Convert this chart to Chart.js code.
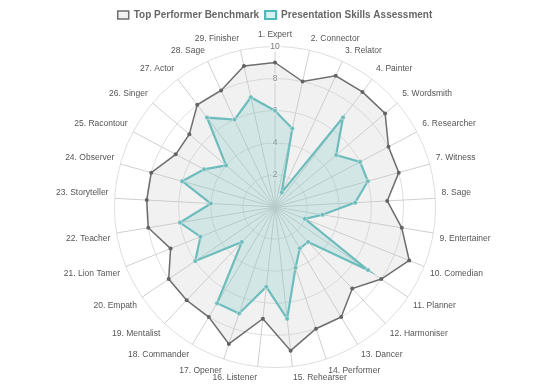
<!DOCTYPE html>
<html>
<head>
<meta charset="utf-8">
<script src="https://cdn.jsdelivr.net/npm/chart.js@4.4.0/dist/chart.umd.min.js"></script>
<style>
html,body{margin:0;padding:0;background:#fff;}
#wrap{width:550px;height:384px;}
</style>
</head>
<body>
<div id="wrap"><canvas id="c" width="550" height="384"></canvas></div>
<script>
const categories = ["1. Expert","2. Connector","3. Relator","4. Painter","5. Wordsmith","6. Researcher","7. Witness","8. Sage","9. Entertainer","10. Comedian","11. Planner","12. Harmoniser","13. Dancer","14. Performer","15. Rehearser","16. Listener","17. Opener","18. Commander","19. Mentalist","20. Empath","21. Lion Tamer","22. Teacher","23. Storyteller","24. Observer","25. Racontour","26. Singer","27. Actor","28. Sage","29. Finisher"];
const benchmark = [9,8,9,9,9,8,8,7,8,9,8,7,8,8,9,7,9,8,8,8,7,8,8,8,7,7,8,8,9];
const assessment = [6,5,1,7,5,6,6,5,3,2,7,3,3,4,7,5,7,7,3,6,5,6,4,6,5,4,7,6,7];
const seriesNames = ["Top Performer Benchmark","Presentation Skills Assessment"];

new Chart(document.getElementById('c'), {
  type: 'radar',
  data: {
    labels: categories,
    datasets: [
      {
        label: seriesNames[0],
        data: benchmark,
        borderColor: 'rgba(110,110,110,1)',
        backgroundColor: 'rgba(200,200,200,0.25)',
        borderWidth: 1.5,
        pointRadius: 2,
        pointBackgroundColor: 'rgba(100,100,100,1)',
        pointBorderColor: 'rgba(100,100,100,1)',
        pointBorderWidth: 0,
        fill: true
      },
      {
        label: seriesNames[1],
        data: assessment,
        borderColor: 'rgba(80,185,185,1)',
        backgroundColor: 'rgba(75,192,192,0.22)',
        borderWidth: 2.2,
        pointRadius: 2.3,
        pointBackgroundColor: 'rgba(80,185,185,1)',
        pointBorderColor: '#fff',
        pointBorderWidth: 0.5,
        fill: true
      }
    ]
  },
  options: {
    responsive: false,
    animation: false,
    devicePixelRatio: 1,
    layout: { padding: { top: 4, bottom: 0, left: 0, right: 0 } },
    plugins: {
      legend: {
        display: true,
        position: 'top',
        labels: {
          boxWidth: 11,
          boxHeight: 8,
          padding: 6,
          color: '#666',
          font: { family: 'Liberation Sans, Arial, sans-serif', size: 10, weight: 'bold' }
        }
      },
      tooltip: { enabled: false }
    },
    scales: {
      r: {
        min: 0,
        max: 10,
        ticks: {
          stepSize: 2,
          color: '#777',
          font: { family: 'Liberation Sans, Arial, sans-serif', size: 8.5 },
          backdropColor: 'rgba(255,255,255,0.75)',
          backdropPadding: 1
        },
        grid: { circular: true, color: '#dedede', lineWidth: 1 },
        angleLines: { color: '#cfcfcf', lineWidth: 1 },
        pointLabels: {
          color: '#555',
          padding: 1,
          font: { family: 'Liberation Sans, Arial, sans-serif', size: 8.5 }
        }
      }
    }
  }
});
</script>
</body>
</html>
